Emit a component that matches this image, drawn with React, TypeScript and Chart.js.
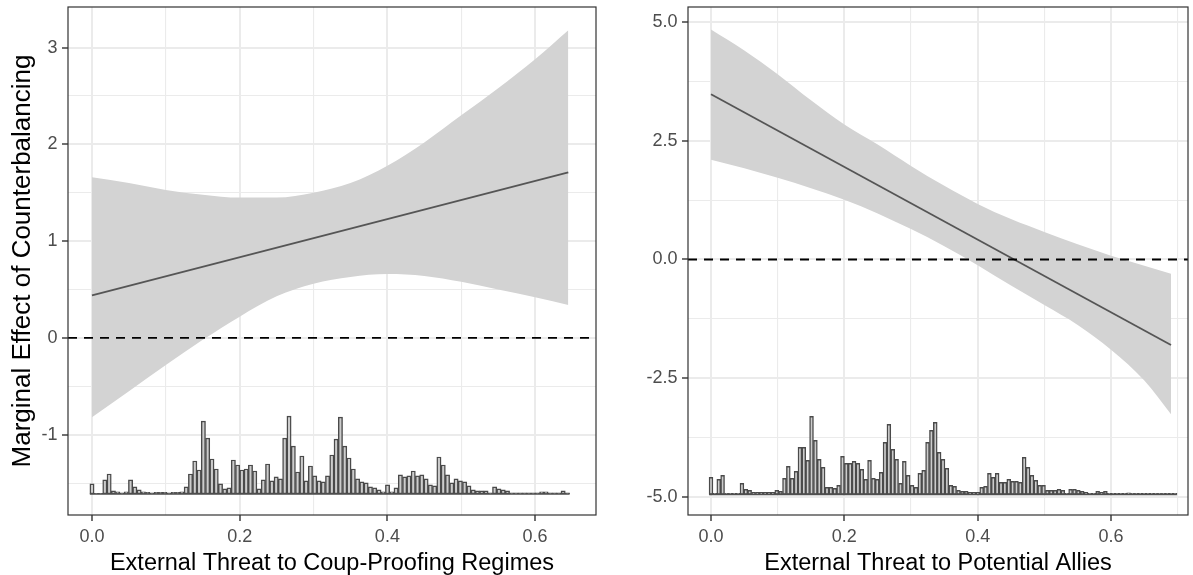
import React, { useEffect, useRef } from "react";
import { Chart, registerables } from "chart.js";
Chart.register(...registerables);

const FONT = "'Liberation Sans', Arial, Helvetica, sans-serif";
const REF_Y = 0;
const HIST_BIN_WIDTH = 0.0058;

// ---------------- Left panel ----------------
const LEFT_X_TITLE = "External Threat to Coup-Proofing Regimes";
const LEFT_Y_TITLE = "Marginal Effect of Counterbalancing";
const LEFT_X_LIMITS = [-0.0325, 0.6825];
const LEFT_Y_LIMITS = [-1.83, 3.42];
const LEFT_X_TICKS = [0, 0.2, 0.4, 0.6];
const LEFT_X_TICK_LABELS = ["0.0", "0.2", "0.4", "0.6"];
const LEFT_X_MINOR = [0.1, 0.3, 0.5];
const LEFT_Y_TICKS = [-1, 0, 1, 2, 3];
const LEFT_Y_TICK_LABELS = ["-1", "0", "1", "2", "3"];
const LEFT_Y_MINOR = [-1.5, -0.5, 0.5, 1.5, 2.5];

const LEFT_GRID_X = [0, 0.05, 0.1, 0.15, 0.2, 0.25, 0.3, 0.35, 0.4, 0.45, 0.5, 0.55, 0.6, 0.645];
const LEFT_UPPER = [1.66, 1.6, 1.53, 1.48, 1.45, 1.45, 1.5, 1.6, 1.78, 2.02, 2.3, 2.58, 2.88, 3.18];
const LEFT_LOWER = [-0.82, -0.55, -0.28, -0.02, 0.22, 0.43, 0.56, 0.63, 0.66, 0.64, 0.58, 0.5, 0.42, 0.34];
const LEFT_EFFECT_X = [0, 0.645];
const LEFT_EFFECT_Y = [0.44, 1.71];
const LEFT_HIST_BASE = -1.612;
const LEFT_HIST_UNIT = 1 / 97;
const LEFT_HIST = [
  10, 0.5, 0.5, 14, 20, 3, 2, 1, 2, 14,
  7, 4, 2, 1.5, 1, 1.5, 1.5, 1.5, 1, 1.5,
  1.5, 2, 7, 20, 33, 24, 73, 56, 35, 25,
  10, 5, 6, 34, 29, 24, 25, 29, 23, 5,
  14, 30, 13, 17, 15, 56, 78, 48, 22, 38,
  13, 28, 18, 13, 12, 18, 39, 55, 77, 48,
  36, 25, 15, 12, 11, 7, 6, 4, 2, 9,
  2, 6, 19, 17, 18, 23, 18, 19, 15, 9,
  8, 37, 29, 19, 11, 15, 13, 12, 8, 4,
  3, 3, 3, 1, 7, 5, 4, 3, 1, 1,
  1, 1, 1, 1, 1, 2, 2, 1, 1, 1,
  3, 1,
];

// ---------------- Right panel ----------------
const RIGHT_X_TITLE = "External Threat to Potential Allies";
const RIGHT_X_LIMITS = [-0.0345, 0.7155];
const RIGHT_Y_LIMITS = [-5.38, 5.316];
const RIGHT_X_TICKS = [0, 0.2, 0.4, 0.6];
const RIGHT_X_TICK_LABELS = ["0.0", "0.2", "0.4", "0.6"];
const RIGHT_X_MINOR = [0.1, 0.3, 0.5, 0.7];
const RIGHT_Y_TICKS = [-5, -2.5, 0, 2.5, 5];
const RIGHT_Y_TICK_LABELS = ["-5.0", "-2.5", "0.0", "2.5", "5.0"];
const RIGHT_Y_MINOR = [-3.75, -1.25, 1.25, 3.75];

const RIGHT_GRID_X = [0, 0.05, 0.1, 0.15, 0.2, 0.25, 0.3, 0.35, 0.4, 0.45, 0.5, 0.55, 0.6, 0.65, 0.69];
const RIGHT_UPPER = [4.84, 4.4, 3.9, 3.35, 2.84, 2.42, 1.97, 1.55, 1.17, 0.85, 0.58, 0.32, 0.08, -0.13, -0.3];
const RIGHT_LOWER = [2.1, 1.92, 1.72, 1.5, 1.26, 0.97, 0.64, 0.28, -0.12, -0.55, -0.96, -1.38, -1.9, -2.55, -3.26];
const RIGHT_EFFECT_X = [0, 0.69];
const RIGHT_EFFECT_Y = [3.48, -1.8];
const RIGHT_HIST_BASE = -4.947;
const RIGHT_HIST_UNIT = 1 / 47.5;
const RIGHT_HIST = [
  17, 1, 15, 19, 1, 1, 1, 1, 11, 5,
  4, 2, 2, 2, 2, 2, 2, 4, 3, 16,
  28, 16, 23, 47, 47, 34, 78, 54, 35, 27,
  7, 7, 6, 9, 38, 31, 31, 33, 31, 25,
  15, 34, 16, 15, 22, 52, 70, 45, 35, 11,
  33, 19, 9, 7, 21, 24, 52, 64, 72, 42,
  35, 26, 9, 8, 4, 3, 3, 2, 2, 2,
  7, 8, 21, 17, 21, 12, 12, 15, 13, 13,
  12, 37, 27, 19, 14, 9, 9, 4, 4, 4,
  5, 4, 1, 5, 5, 4, 3, 2, 1, 1,
  3, 2, 3, 1, 1, 1, 1, 1, 1.5, 1,
  1, 1, 1, 1, 1, 1, 1, 1, 1, 1,
  1,
];

type PanelData = {
  xTitle: string;
  yTitle: string | null;
  xLim: number[];
  yLim: number[];
  xTicks: number[];
  xTickLabels: string[];
  xMinor: number[];
  yTicks: number[];
  yTickLabels: string[];
  yMinor: number[];
  gridX: number[];
  upper: number[];
  lower: number[];
  effX: number[];
  effY: number[];
  hist: number[];
  histBase: number;
  histUnit: number;
};

const LEFT: PanelData = {
  xTitle: LEFT_X_TITLE, yTitle: LEFT_Y_TITLE, xLim: LEFT_X_LIMITS, yLim: LEFT_Y_LIMITS,
  xTicks: LEFT_X_TICKS, xTickLabels: LEFT_X_TICK_LABELS, xMinor: LEFT_X_MINOR,
  yTicks: LEFT_Y_TICKS, yTickLabels: LEFT_Y_TICK_LABELS, yMinor: LEFT_Y_MINOR,
  gridX: LEFT_GRID_X, upper: LEFT_UPPER, lower: LEFT_LOWER,
  effX: LEFT_EFFECT_X, effY: LEFT_EFFECT_Y,
  hist: LEFT_HIST, histBase: LEFT_HIST_BASE, histUnit: LEFT_HIST_UNIT,
};
const RIGHT: PanelData = {
  xTitle: RIGHT_X_TITLE, yTitle: null, xLim: RIGHT_X_LIMITS, yLim: RIGHT_Y_LIMITS,
  xTicks: RIGHT_X_TICKS, xTickLabels: RIGHT_X_TICK_LABELS, xMinor: RIGHT_X_MINOR,
  yTicks: RIGHT_Y_TICKS, yTickLabels: RIGHT_Y_TICK_LABELS, yMinor: RIGHT_Y_MINOR,
  gridX: RIGHT_GRID_X, upper: RIGHT_UPPER, lower: RIGHT_LOWER,
  effX: RIGHT_EFFECT_X, effY: RIGHT_EFFECT_Y,
  hist: RIGHT_HIST, histBase: RIGHT_HIST_BASE, histUnit: RIGHT_HIST_UNIT,
};

type Layout = { yAxisWidth: number; padRight: number };

const panelBorder = {
  id: "panelBorder",
  afterDraw(chart: any) {
    const { ctx, chartArea: a } = chart;
    ctx.save();
    ctx.strokeStyle = "#333333";
    ctx.lineWidth = 1.2;
    ctx.strokeRect(a.left, a.top, a.right - a.left, a.bottom - a.top);
    ctx.restore();
  },
};

function makeChart(canvas: HTMLCanvasElement, p: PanelData, lay: Layout) {
  const finder = (vals: number[]) => (v: any) =>
    typeof v === "number" ? vals.findIndex((m) => Math.abs(m - v) < 1e-9) : -1;
  const xIdx = finder(p.xTicks);
  const yIdx = finder(p.yTicks);
  const xy = (xs: number[], ys: number[]) => xs.map((x, i) => ({ x, y: ys[i] }));
  const hist = p.hist.map((h, i) => ({
    x: i * HIST_BIN_WIDTH,
    y: [p.histBase, p.histBase + h * p.histUnit],
  }));
  const histEdges = [
    { x: -HIST_BIN_WIDTH / 2, y: p.histBase },
    { x: (p.hist.length - 0.5) * HIST_BIN_WIDTH, y: p.histBase },
  ];

  const gridOpts = (idx: (v: any) => number) => ({
    color: "#ebebeb",
    lineWidth: (c: any) => (idx(c.tick?.value) >= 0 ? 2 : 1.1),
    tickColor: (c: any) => (idx(c.tick?.value) >= 0 ? "#333333" : "rgba(0,0,0,0)"),
    tickWidth: 1.4,
    tickLength: 6,
    drawTicks: true,
    offset: false,
  });

  return new Chart(canvas, {
    type: "line",
    data: {
      datasets: [
        {
          data: [
            { x: p.xLim[0], y: REF_Y },
            { x: p.xLim[1], y: REF_Y },
          ],
          borderColor: "#000000",
          borderWidth: 1.8,
          borderDash: [9, 7],
          pointRadius: 0,
          fill: false,
        },
        {
          data: xy(p.effX, p.effY),
          borderColor: "#555555",
          borderWidth: 1.8,
          pointRadius: 0,
          fill: false,
        },
        {
          data: histEdges,
          borderColor: "#4f4f4f",
          borderWidth: 1.5,
          pointRadius: 0,
          fill: false,
        },
        {
          data: xy(p.gridX, p.upper),
          borderColor: "rgba(0,0,0,0)",
          borderWidth: 0,
          pointRadius: 0,
          backgroundColor: "#d3d3d3",
          fill: "+1",
          cubicInterpolationMode: "monotone",
        },
        {
          data: xy(p.gridX, p.lower),
          borderColor: "rgba(0,0,0,0)",
          borderWidth: 0,
          pointRadius: 0,
          fill: false,
          cubicInterpolationMode: "monotone",
        },
        {
          type: "bar",
          data: hist,
          backgroundColor: "#cccccc",
          borderColor: "#4a4a4a",
          borderWidth: 1.45,
          borderSkipped: false,
          barPercentage: 1,
          categoryPercentage: 1,
        } as any,
      ],
    } as any,
    options: {
      responsive: false,
      animation: false,
      devicePixelRatio: 1,
      events: [],
      layout: { padding: { left: 0, right: lay.padRight, top: 7, bottom: 0 } },
      plugins: { legend: { display: false }, tooltip: { enabled: false } },
      scales: {
        x: {
          type: "linear",
          min: p.xLim[0],
          max: p.xLim[1],
          offset: false,
          bounds: "data",
          border: { display: false },
          grid: gridOpts(xIdx) as any,
          afterBuildTicks: (s: any) => {
            s.ticks = [...p.xTicks, ...p.xMinor].sort((a, b) => a - b).map((v) => ({ value: v }));
          },
          afterFit: (s: any) => {
            s.height = 60;
            s.paddingLeft = 0;
            s.paddingRight = 0;
          },
          ticks: {
            autoSkip: false,
            maxRotation: 0,
            padding: 5,
            color: "#4d4d4d",
            font: { family: FONT, size: 18 },
            callback: (v: any) => {
              const i = xIdx(v);
              return i >= 0 ? p.xTickLabels[i] : "";
            },
          },
          title: {
            display: true,
            text: p.xTitle,
            color: "#000000",
            font: { family: FONT, size: 23.5, lineHeight: 1 },
            padding: { top: 0, bottom: 0 },
          },
        },
        y: {
          type: "linear",
          min: p.yLim[0],
          max: p.yLim[1],
          bounds: "data",
          border: { display: false },
          grid: gridOpts(yIdx) as any,
          afterBuildTicks: (s: any) => {
            s.ticks = [...p.yTicks, ...p.yMinor].sort((a, b) => a - b).map((v) => ({ value: v }));
          },
          afterFit: (s: any) => {
            s.width = lay.yAxisWidth;
            s.paddingTop = 0;
            s.paddingBottom = 0;
          },
          ticks: {
            autoSkip: false,
            padding: 4.5,
            color: "#4d4d4d",
            font: { family: FONT, size: 18 },
            callback: (v: any) => {
              const i = yIdx(v);
              return i >= 0 ? p.yTickLabels[i] : "";
            },
          },
          title: {
            display: !!p.yTitle,
            text: p.yTitle || "",
            color: "#000000",
            font: { family: FONT, size: 26, lineHeight: 1 },
            padding: { top: 9.5, bottom: 0 },
          },
        },
      },
    },
    plugins: [panelBorder],
  } as any);
}

function Panel({ p, left, width, lay }: { p: PanelData; left: number; width: number; lay: Layout }) {
  const ref = useRef<HTMLCanvasElement>(null);
  useEffect(() => {
    const chart = makeChart(ref.current as HTMLCanvasElement, p, lay);
    return () => chart.destroy();
  }, []);
  return (
    <canvas
      ref={ref}
      width={width}
      height={575}
      style={{ position: "absolute", left, top: 0, width, height: 575 }}
    />
  );
}

export default function App() {
  return (
    <div style={{ position: "fixed", left: 0, top: 0, width: 1193, height: 575, background: "#ffffff" }}>
      <Panel p={LEFT} left={0} width={600} lay={{ yAxisWidth: 68, padRight: 4 }} />
      <Panel p={RIGHT} left={600} width={593} lay={{ yAxisWidth: 88, padRight: 5 }} />
    </div>
  );
}
